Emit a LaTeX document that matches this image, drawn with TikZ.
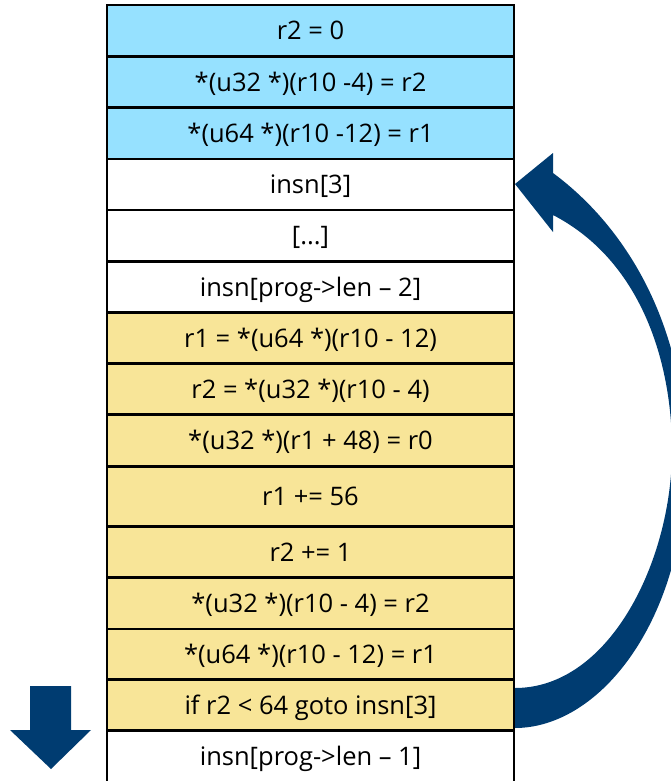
\documentclass[tikz,border=0pt]{standalone}
\usepackage{fontspec}
\setmainfont{Open Sans}
\definecolor{svetlomodra}{RGB}{150,225,255}
\definecolor{rumena}{RGB}{248,229,152}
\definecolor{temnomodra}{RGB}{0,60,113}
\begin{document}
\begin{tikzpicture}[
        x=1pt, y=-1pt,
        vrstica/.style={draw=black, line width=2.5pt, rectangle, minimum width=407pt,
            inner sep=0pt, text height=18pt, text depth=0pt,
            font=\fontsize{25.5}{30}\selectfont},
        puscica/.style={fill=temnomodra, draw=none}
    ]
        \useasboundingbox (0,0) rectangle (671,781);
        \clip (0,0) rectangle (671,781);

        % --- SKLAD UKAZOV ---
        % ime / zgornji rob / spodnji rob / barva / besedilo
        \foreach \ime/\vrh/\dno/\barva/\besedilo in {
            a/5/56.5/svetlomodra/{r2 = 0},
            b/56.5/107.7/svetlomodra/{*(u32 *)(r10 -4) = r2},
            c/107.7/159/svetlomodra/{*(u64 *)(r10 -12) = r1},
            insn3/159/210/white/{insn[3]},
            e/210/261.5/white/{[...]},
            f/261.5/312.7/white/{insn[prog->len – 2]},
            g/312.7/363.5/rumena/{r1 = *(u64 *)(r10 - 12)},
            h/363.5/414.5/rumena/{r2 = *(u32 *)(r10 - 4)},
            i/414.5/466.5/rumena/{*(u32 *)(r1 + 48) = r0},
            j/466.5/526.5/rumena/{r1 += 56},
            k/526.5/577.5/rumena/{r2 += 1},
            l/577.5/629/rumena/{*(u32 *)(r10 - 4) = r2},
            m/629/679.5/rumena/{*(u64 *)(r10 - 12) = r1},
            pogoj/679.5/730.5/rumena/{if r2 < 64 goto insn[3]},
            zadnji/730.5/782/white/{insn[prog->len – 1]}} {
            \node[vrstica, fill=\barva, minimum height={\dno-\vrh}]
                (\ime) at (310.5, {(\vrh+\dno)/2}) {\besedilo};
        }

        % --- SKOK NAZAJ (ukrivljena puscica) ---
        \fill[puscica] (515,728)
            .. controls (600,728) and (686,620) .. (686,460)
            .. controls (686,330) and (630,230) .. (553,173)
            -- (553,153) -- (515,184) -- (553,232) -- (553,215)
            .. controls (640,260) and (672,360) .. (672,450)
            .. controls (672,560) and (610,688) .. (515,688) -- cycle;

        % --- NADALJEVANJE NAVZDOL ---
        \fill[puscica] (30,686) -- (71,686) -- (71,730) -- (91,730)
            -- (51,769) -- (10,730) -- (30,730) -- cycle;
    \end{tikzpicture}
\end{document}
